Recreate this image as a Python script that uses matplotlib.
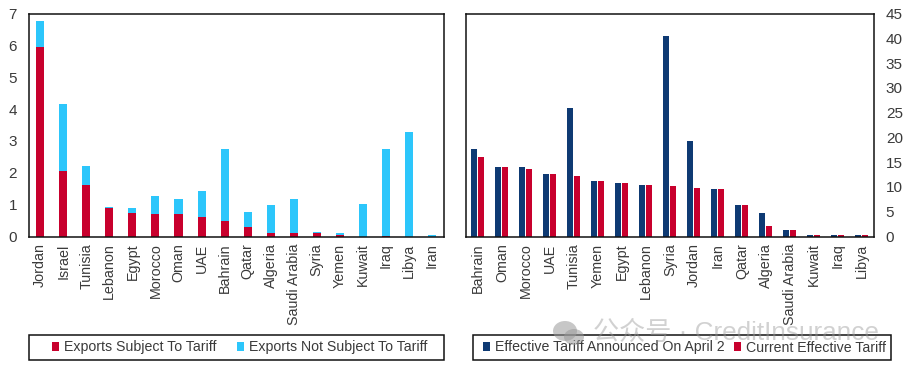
import numpy as np
import matplotlib
matplotlib.use("Agg")
import matplotlib.pyplot as plt
from matplotlib.patches import Ellipse, Rectangle

plt.rcParams['font.family'] = ['Liberation Sans', 'Noto Sans CJK SC', 'DejaVu Sans']

# left panel data
export_countries = ["Jordan", "Israel", "Tunisia", "Lebanon", "Egypt", "Morocco", "Oman", "UAE", "Bahrain",
                    "Qatar", "Algeria", "Saudi Arabia", "Syria", "Yemen", "Kuwait", "Iraq", "Libya", "Iran"]
exports_subject = [5.95, 2.07, 1.63, 0.9, 0.75, 0.7, 0.7, 0.6, 0.5, 0.3, 0.1, 0.1, 0.1, 0.06, 0.0, 0.01, 0.0, 0.0]
exports_not_subject = [0.83, 2.1, 0.57, 0.04, 0.13, 0.58, 0.48, 0.83, 2.25, 0.48, 0.88, 1.08, 0.04, 0.04, 1.03, 2.74, 3.28, 0.05]

# right panel data
tariff_countries = ["Bahrain", "Oman", "Morocco", "UAE", "Tunisia", "Yemen", "Egypt", "Lebanon", "Syria",
                    "Jordan", "Iran", "Qatar", "Algeria", "Saudi Arabia", "Kuwait", "Iraq", "Libya"]
tariff_announced = [17.7, 14, 14, 12.6, 25.9, 11.1, 10.8, 10.4, 40.4, 19.3, 9.5, 6.3, 4.8, 1.35, 0.4, 0.4, 0.4]
tariff_current = [16.1, 14, 13.6, 12.6, 12.3, 11.1, 10.8, 10.4, 10.15, 9.8, 9.5, 6.3, 2.2, 1.35, 0.4, 0.4, 0.4]

W, H = 909, 369
RED = '#c8002d'
CYAN = '#2cc6fb'
NAVY = '#0e3a73'
TEXT = '#3a3a3a'


def px_axes(fig, x0, x1, y0, y1):
    return fig.add_axes([x0 / W, 1 - y1 / H, (x1 - x0) / W, (y1 - y0) / H])


def style(ax):
    for s in ax.spines.values():
        s.set_linewidth(1.1)
        s.set_color('#111111')
    ax.tick_params(axis='both', length=0, labelcolor=TEXT)
    ax.tick_params(axis='x', labelsize=10.25, rotation=90, pad=5)
    ax.tick_params(axis='y', labelsize=11, pad=8.5)


fig = plt.figure(figsize=(W / 100, H / 100), dpi=100)

# left: stacked exports
ax1 = px_axes(fig, 28.7, 443.5, 13.5, 236.5)
x1 = np.arange(len(export_countries))
ax1.bar(x1, exports_subject, width=0.35, color=RED, label="Exports Subject To Tariff")
ax1.bar(x1, exports_not_subject, width=0.35, bottom=exports_subject, color=CYAN,
        label="Exports Not Subject To Tariff")
ax1.set_xlim(-0.5, len(x1) - 0.5)
ax1.set_ylim(0, 7)
ax1.set_xticks(x1, export_countries)
ax1.set_yticks(range(8))
style(ax1)

# right: grouped tariffs
ax2 = px_axes(fig, 466, 874, 13.5, 236.5)
x2 = np.arange(len(tariff_countries))
ax2.bar(x2 - 0.16, tariff_announced, width=0.26, color=NAVY, label="Effective Tariff Announced On April 2")
ax2.bar(x2 + 0.14, tariff_current, width=0.26, color=RED, label="Current Effective Tariff")
ax2.set_xlim(-0.5, len(x2) - 0.5)
ax2.set_ylim(0, 45)
ax2.set_xticks(x2, tariff_countries)
ax2.set_yticks(range(0, 46, 5))
ax2.yaxis.tick_right()
style(ax2)

# legend boxes sit below each panel, the frames are drawn by hand so the entries can be placed freely
for ax, box, centre, gap in [(ax1, (28.7, 335, 415.5, 25), 240, 1.45), (ax2, (473.3, 335, 417.7, 25), 684.5, 0.62)]:
    fig.add_artist(Rectangle((box[0] / W, 1 - (box[1] + box[3]) / H), box[2] / W, box[3] / H,
                             transform=fig.transFigure, fc='white', ec='#111111', lw=1.1))
    leg = ax.legend(loc='center', bbox_to_anchor=(centre / W, 1 - (box[1] + box[3] / 2) / H),
                    bbox_transform=fig.transFigure, ncol=2, frameon=False, fontsize=10.15,
                    handlelength=0.5, handleheight=0.5, handletextpad=0.35, columnspacing=gap,
                    borderaxespad=0, borderpad=0, labelcolor=TEXT)
    leg.set_zorder(5)
    fig.legends.append(leg)
    ax.legend_ = None

# watermark
fig.text(593 / W, 1 - 333 / H, "公众号 · CreditInsurance", fontsize=18.8, color='#9a9a9a', alpha=0.45,
         va='center', ha='left', zorder=10)
for cx, cy, w, h in [(565, 331, 24, 20), (574, 337, 20, 16)]:
    fig.add_artist(Ellipse((cx / W, 1 - cy / H), w / W, h / H, transform=fig.transFigure,
                           color='#9a9a9a', alpha=0.55, lw=0, zorder=10))

fig.savefig("out.png", dpi=100)
